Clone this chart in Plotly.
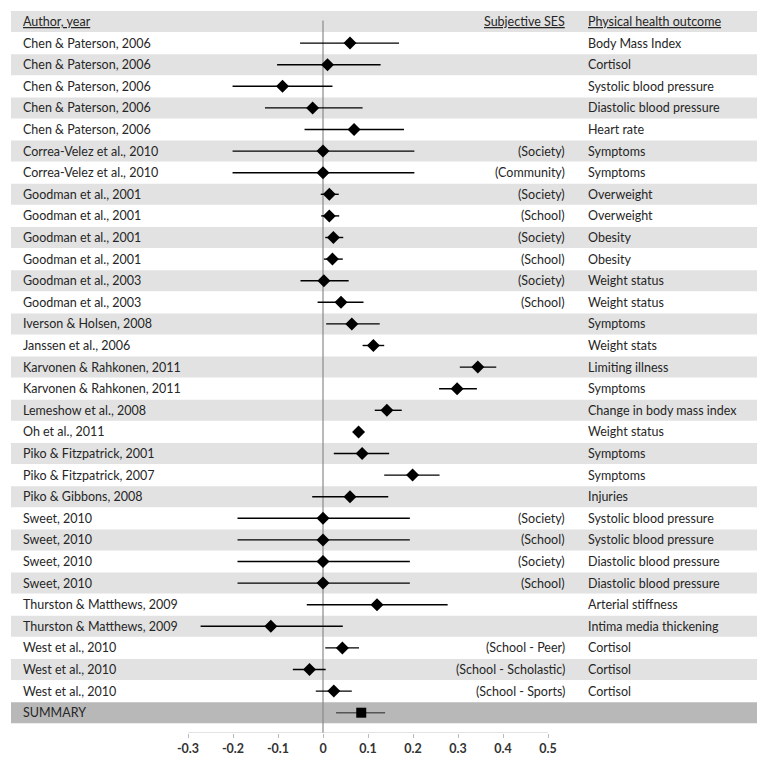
import plotly.graph_objects as go

authors = [
    "Chen & Paterson, 2006", "Chen & Paterson, 2006", "Chen & Paterson, 2006",
    "Chen & Paterson, 2006", "Chen & Paterson, 2006",
    "Correa-Velez et al., 2010", "Correa-Velez et al., 2010",
    "Goodman et al., 2001", "Goodman et al., 2001", "Goodman et al., 2001", "Goodman et al., 2001",
    "Goodman et al., 2003", "Goodman et al., 2003",
    "Iverson & Holsen, 2008", "Janssen et al., 2006",
    "Karvonen & Rahkonen, 2011", "Karvonen & Rahkonen, 2011",
    "Lemeshow et al., 2008", "Oh et al., 2011",
    "Piko & Fitzpatrick, 2001", "Piko & Fitzpatrick, 2007", "Piko & Gibbons, 2008",
    "Sweet, 2010", "Sweet, 2010", "Sweet, 2010", "Sweet, 2010",
    "Thurston & Matthews, 2009", "Thurston & Matthews, 2009",
    "West et al., 2010", "West et al., 2010", "West et al., 2010",
]
ses = [
    "", "", "", "", "",
    "(Society)", "(Community)",
    "(Society)", "(School)", "(Society)", "(School)",
    "(Society)", "(School)",
    "", "", "", "", "", "", "", "", "",
    "(Society)", "(School)", "(Society)", "(School)",
    "", "",
    "(School - Peer)", "(School - Scholastic)", "(School - Sports)",
]
outcomes = [
    "Body Mass Index", "Cortisol", "Systolic blood pressure", "Diastolic blood pressure", "Heart rate",
    "Symptoms", "Symptoms",
    "Overweight", "Overweight", "Obesity", "Obesity",
    "Weight status", "Weight status",
    "Symptoms", "Weight stats",
    "Limiting illness", "Symptoms",
    "Change in body mass index", "Weight status",
    "Symptoms", "Symptoms", "Injuries",
    "Systolic blood pressure", "Systolic blood pressure", "Diastolic blood pressure", "Diastolic blood pressure",
    "Arterial stiffness", "Intima media thickening",
    "Cortisol", "Cortisol", "Cortisol",
]
effect = [0.060, 0.010, -0.090, -0.023, 0.069,
          0.000, 0.000,
          0.014, 0.014, 0.023, 0.021,
          0.002, 0.040,
          0.064, 0.112,
          0.344, 0.298,
          0.142, 0.079,
          0.087, 0.199, 0.060,
          0.000, 0.000, 0.000, 0.000,
          0.120, -0.116,
          0.043, -0.030, 0.024]
lower = [-0.051, -0.102, -0.201, -0.129, -0.041,
         -0.201, -0.201,
         -0.005, -0.004, 0.005, 0.002,
         -0.050, -0.012,
         0.007, 0.088,
         0.304, 0.258,
         0.115, 0.075,
         0.024, 0.136, -0.024,
         -0.190, -0.190, -0.190, -0.190,
         -0.036, -0.272,
         0.005, -0.067, -0.016]
upper = [0.169, 0.128, 0.021, 0.088, 0.180,
         0.203, 0.203,
         0.035, 0.036, 0.045, 0.044,
         0.057, 0.090,
         0.126, 0.136,
         0.385, 0.342,
         0.175, 0.084,
         0.147, 0.259, 0.145,
         0.193, 0.193, 0.193, 0.193,
         0.277, 0.044,
         0.080, 0.006, 0.064]
summary_label = "SUMMARY"
summary_effect = 0.085
summary_lower = 0.029
summary_upper = 0.138
tick_vals = [-0.3, -0.2, -0.1, 0, 0.1, 0.2, 0.3, 0.4, 0.5]
tick_text = ["-0.3", "-0.2", "-0.1", "0", "0.1", "0.2", "0.3", "0.4", "0.5"]

# page body has an 8px margin: figure sits at (8, 8) in the 766x762 window
OFF = 8
W, H = 766 - OFF, 762 - OFF
FONT = "Lato"
TXT = "#262626"
n = len(authors)
rows = list(range(1, n + 1))
sum_row = n + 1

# pixel mapping (window px): x=-0.3 at 188, x=0.5 at 548
px_lo, px_hi = 188 - OFF, 548 - OFF
ppu = (px_hi - px_lo) / 0.8
x0 = -0.3 - px_lo / ppu
x1 = -0.3 + (W - px_lo) / ppu
# rows: header centre at 21.5 px (window), pitch 21.6 px, axis at 733 px
pitch = 21.6
head_c = 21.5 - OFF
plot_h = 733 - OFF
y_top = -head_c / pitch
y_bot = (plot_h - head_c) / pitch


def px(v):
    return (v - OFF) / W


fig = go.Figure()

shapes = []
band_x0, band_x1 = px(11), px(757)
for i in range(0, n + 1, 2):
    shapes.append(dict(type="rect", xref="paper", yref="y", x0=band_x0, x1=band_x1,
                       y0=i - 0.485, y1=i + 0.485, fillcolor="#e2e2e2", line_width=0, layer="below"))
shapes.append(dict(type="rect", xref="paper", yref="y", x0=band_x0, x1=band_x1,
                   y0=sum_row - 0.485, y1=sum_row + 0.485, fillcolor="#b8b8b8", line_width=0, layer="below"))
# zero reference line
shapes.append(dict(type="line", xref="x", yref="y", x0=0, x1=0, y0=-0.05, y1=y_bot + 0.1,
                   line=dict(color="#8a8a8a", width=1.2), layer="below"))
# axis line spanning the tick range
shapes.append(dict(type="line", xref="x", yref="y", x0=tick_vals[0], x1=tick_vals[-1], y0=y_bot, y1=y_bot,
                   line=dict(color="#c8c8c8", width=1.2)))

fig.add_trace(go.Scatter(
    x=effect, y=rows, mode="markers",
    marker=dict(symbol="diamond", size=10, color="black"),
    error_x=dict(type="data", symmetric=False,
                 array=[u - e for u, e in zip(upper, effect)],
                 arrayminus=[e - l for e, l in zip(effect, lower)],
                 color="black", thickness=1.4, width=0),
    hoverinfo="skip", showlegend=False))
fig.add_trace(go.Scatter(
    x=[summary_effect], y=[sum_row], mode="markers",
    marker=dict(symbol="square", size=10, color="black"),
    error_x=dict(type="data", symmetric=False,
                 array=[summary_upper - summary_effect],
                 arrayminus=[summary_effect - summary_lower],
                 color="#555555", thickness=1.4, width=0),
    hoverinfo="skip", showlegend=False))

annotations = []
font = dict(family=FONT, size=12.5, color=TXT)
ufont = dict(family=FONT, size=12.5, color=TXT, lineposition="under")
annotations.append(dict(text="Author, year", x=px(21), y=0, xref="paper", yref="y",
                        xanchor="left", yanchor="middle", showarrow=False, font=ufont))
annotations.append(dict(text="Subjective SES", x=px(567), y=0, xref="paper", yref="y",
                        xanchor="right", yanchor="middle", showarrow=False, font=ufont))
annotations.append(dict(text="Physical health outcome", x=px(586), y=0, xref="paper", yref="y",
                        xanchor="left", yanchor="middle", showarrow=False, font=ufont))
for r, a, s, o in zip(rows, authors, ses, outcomes):
    annotations.append(dict(text=a, x=px(21), y=r, xref="paper", yref="y",
                            xanchor="left", yanchor="middle", showarrow=False, font=font))
    if s:
        annotations.append(dict(text=s, x=px(567), y=r, xref="paper", yref="y",
                                xanchor="right", yanchor="middle", showarrow=False, font=font))
    annotations.append(dict(text=o, x=px(586), y=r, xref="paper", yref="y",
                            xanchor="left", yanchor="middle", showarrow=False, font=font))
annotations.append(dict(text=summary_label, x=px(21), y=sum_row, xref="paper", yref="y",
                        xanchor="left", yanchor="middle", showarrow=False, font=font))

fig.update_layout(
    width=W, height=H,
    margin=dict(l=0, r=0, t=0, b=H - plot_h),
    plot_bgcolor="white", paper_bgcolor="white",
    shapes=shapes, annotations=annotations,
    xaxis=dict(range=[x0, x1], tickvals=tick_vals, ticktext=tick_text,
               showgrid=False, zeroline=False, showline=False,
               ticks="outside", ticklen=4, tickcolor="#bbbbbb", tickwidth=1,
               tickfont=dict(family=FONT, size=12.5, color="#333333", weight="bold")),
    yaxis=dict(range=[y_bot, y_top], showgrid=False, zeroline=False, showline=False,
               showticklabels=False, ticks=""),
)

fig.write_html("out.html")
